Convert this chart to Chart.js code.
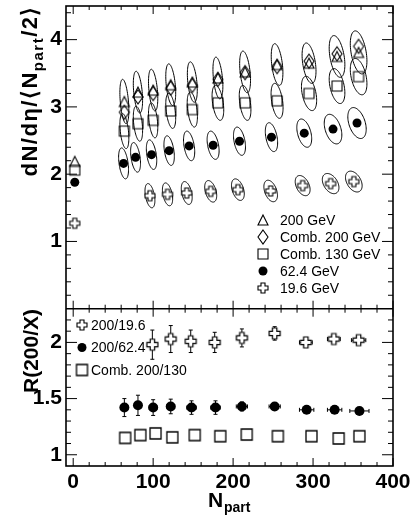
<!DOCTYPE html>
<html>
<head>
<meta charset="utf-8">
<script src="https://cdn.jsdelivr.net/npm/chart.js@4.4.1/dist/chart.umd.min.js"></script>
<style>
  html, body { margin: 0; padding: 0; background: #fff; }
</style>
</head>
<body>
<canvas id="c" width="411" height="520"></canvas>
<script>
// --- top panel: dN/deta / <Npart/2> vs Npart ---
const npartAu = [64, 81, 100, 122, 149, 181, 215, 255, 295, 330, 357];
const au200 = [3.08, 3.22, 3.25, 3.33, 3.37, 3.43, 3.52, 3.63, 3.65, 3.75, 3.81];
const comb200 = [2.92, 3.15, 3.20, 3.28, 3.32, 3.41, 3.51, 3.60, 3.68, 3.79, 3.90];
const comb130 = [2.64, 2.75, 2.80, 2.94, 2.96, 3.06, 3.06, 3.09, 3.20, 3.31, 3.45];
const npart62 = [63, 78, 98, 120, 145, 175, 208, 248, 289, 325, 355];
const au62 = [2.16, 2.25, 2.29, 2.35, 2.42, 2.43, 2.49, 2.55, 2.61, 2.67, 2.76];
const npart19 = [96, 118, 142, 172, 206, 247, 287, 322, 351];
const au19 = [1.68, 1.70, 1.72, 1.745, 1.77, 1.75, 1.83, 1.86, 1.89];

// p+p (Npart = 2) reference points
const ppNpart = [2];
const pp200 = [2.19];
const pp130 = [2.06];
const pp62 = [1.88];
const pp19 = [1.27];

// systematic error ellipses (half widths in Npart and in y)
const sys200N = [5.6, 5.8, 5.8, 6.2, 6.2, 6.2, 6.8, 7.3, 8.7, 9.8, 10.4];
const sys200Y = [0.33, 0.31, 0.31, 0.31, 0.30, 0.31, 0.31, 0.31, 0.30, 0.31, 0.32];
const sys130N = [5.6, 5.8, 5.8, 6.2, 6.4, 7.3, 7.3, 7.5, 9.5, 9.8, 10.4];
const sys130Y = [0.26, 0.26, 0.26, 0.26, 0.26, 0.26, 0.26, 0.26, 0.255, 0.26, 0.27];
const sys62N = [6.2, 6.2, 6.5, 6.5, 7.0, 7.5, 7.5, 7.7, 9.3, 11.0, 11.5];
const sys62Y = [0.23, 0.22, 0.22, 0.22, 0.22, 0.21, 0.21, 0.215, 0.21, 0.22, 0.23];
const sys19N = [6.2, 6.4, 6.8, 7.5, 8.0, 8.5, 9.3, 10.4, 10.4];
const sys19Y = [0.18, 0.17, 0.17, 0.16, 0.16, 0.16, 0.15, 0.15, 0.155];
const sysRho = -0.4;

// --- bottom panel: R(200/X) ---
const rNpart19 = [99, 122, 147, 177, 211, 252, 291, 326, 357];
const r19 = [1.98, 2.03, 2.01, 2.00, 2.04, 2.08, 2.00, 2.03, 2.02];
const r19ErrY = [0.13, 0.12, 0.10, 0.09, 0.08, 0.06, 0.03, 0.03, 0.03];
const r19ErrX = [4, 4, 5, 5, 6, 6, 8, 8, 9];
const rNpart62 = [64, 81, 100, 122, 148, 178, 211, 252, 292, 327, 358];
const r62 = [1.42, 1.44, 1.42, 1.43, 1.42, 1.42, 1.43, 1.43, 1.40, 1.40, 1.39];
const r62ErrY = [0.08, 0.09, 0.07, 0.065, 0.06, 0.06, 0.04, 0.03, 0.02, 0.02, 0.02];
const r62ErrX = [4, 4, 5, 5, 6, 6, 7, 7, 9, 9, 12];
const rNpart130 = [65, 84, 103, 124, 152, 184, 217, 256, 298, 332, 358];
const r130 = [1.15, 1.175, 1.19, 1.155, 1.175, 1.165, 1.18, 1.165, 1.165, 1.145, 1.165];

const xTicks = [0, 100, 200, 300, 400];
const yTopTicks = [1, 2, 3, 4];
const yBotTicks = [1, 1.5, 2];

const legendTop = ['200 GeV', 'Comb. 200 GeV', 'Comb. 130 GeV', '62.4 GeV', '19.6 GeV'];
const legendBot = ['200/19.6', '200/62.4', 'Comb. 200/130'];

const FONT = 'Liberation Sans, Arial, Helvetica, sans-serif';

function marker(kind, w, h, lw, fill) {
    const pad = 2;
    const c = document.createElement('canvas');
    c.width = w + pad * 2;
    c.height = h + pad * 2;
    const g = c.getContext('2d');
    g.translate(pad, pad);
    g.lineWidth = lw;
    g.strokeStyle = '#000';
    g.beginPath();
    const cx = w / 2, cy = h / 2;
    if (kind === 'tri') {
        g.moveTo(cx, 0); g.lineTo(w, h); g.lineTo(0, h); g.closePath();
    } else if (kind === 'dia') {
        g.moveTo(cx, 0); g.lineTo(w, cy); g.lineTo(cx, h); g.lineTo(0, cy); g.closePath();
    } else if (kind === 'sq') {
        g.rect(0, 0, w, h);
    } else if (kind === 'cross') {
        const a = w * 0.2;
        g.moveTo(cx - a, 0); g.lineTo(cx + a, 0); g.lineTo(cx + a, cy - a); g.lineTo(w, cy - a);
        g.lineTo(w, cy + a); g.lineTo(cx + a, cy + a); g.lineTo(cx + a, h); g.lineTo(cx - a, h);
        g.lineTo(cx - a, cy + a); g.lineTo(0, cy + a); g.lineTo(0, cy - a); g.lineTo(cx - a, cy - a);
        g.closePath();
    }
    if (fill) { g.fillStyle = fill; g.fill(); }
    g.stroke();
    return c;
}

const mkTri = marker('tri', 10, 10, 1.1);
const mkDia = marker('dia', 10, 14, 1.1);
const mkSq = marker('sq', 10, 10, 1.1);
const mkCross = marker('cross', 10, 10, 1.1, '#fff');
const mkCrossB = marker('cross', 11, 11, 1.2, '#fff');
const mkSqB = marker('sq', 11, 11, 1.3, '#fff');

const pts = (xs, ys) => xs.map((x, i) => ({ x: x, y: ys[i] }));

function ds(label, data, axis, style, extra) {
    return Object.assign({
        label: label,
        data: data,
        yAxisID: axis,
        pointStyle: style,
        pointRadius: 5,
        borderColor: '#000',
        backgroundColor: '#000',
        borderWidth: 1,
        showLine: false
    }, extra || {});
}

const datasets = [
    ds('200 GeV', pts(ppNpart, pp200).concat(pts(npartAu, au200)), 'yT', mkTri),
    ds('Comb. 200 GeV', pts(npartAu, comb200), 'yT', mkDia),
    ds('Comb. 130 GeV', pts(ppNpart, pp130).concat(pts(npartAu, comb130)), 'yT', mkSq),
    ds('62.4 GeV', pts(ppNpart, pp62).concat(pts(npart62, au62)), 'yT', 'circle', { pointRadius: 4.5, borderWidth: 0 }),
    ds('19.6 GeV', pts(ppNpart, pp19).concat(pts(npart19, au19)), 'yT', mkCross),
    ds('200/19.6', pts(rNpart19, r19), 'yB', mkCrossB),
    ds('200/62.4', pts(rNpart62, r62), 'yB', 'circle', { pointRadius: 5, borderWidth: 0 }),
    ds('Comb. 200/130', pts(rNpart130, r130), 'yB', mkSqB)
];

const ellipses = [
    [npartAu, au200, sys200N, sys200Y],
    [npartAu, comb130, sys130N, sys130Y],
    [npart62, au62, sys62N, sys62Y],
    [npart19, au19, sys19N, sys19Y]
];

const errBars = [
    [rNpart19, r19, r19ErrX, r19ErrY],
    [rNpart62, r62, r62ErrX, r62ErrY]
];

const extras = {
    id: 'extras',
    beforeDatasetsDraw(chart) {
        const ctx = chart.ctx;
        const sx = chart.scales.x, sy = chart.scales.yT, sb = chart.scales.yB;
        ctx.save();
        ctx.strokeStyle = '#000';
        ctx.lineWidth = 1;
        const k = Math.sqrt(1 - sysRho * sysRho);
        ellipses.forEach(([xs, ys, ex, ey]) => {
            xs.forEach((x0, i) => {
                ctx.beginPath();
                for (let j = 0; j <= 72; j++) {
                    const t = j / 72 * Math.PI * 2;
                    const px = sx.getPixelForValue(x0 + ex[i] * Math.cos(t));
                    const py = sy.getPixelForValue(ys[i] + ey[i] * (sysRho * Math.cos(t) + k * Math.sin(t)));
                    if (j === 0) ctx.moveTo(px, py); else ctx.lineTo(px, py);
                }
                ctx.stroke();
            });
        });
        // error bars in the ratio panel
        errBars.forEach(([xs, ys, ex, ey]) => {
            xs.forEach((x0, i) => {
                const px = sx.getPixelForValue(x0), py = sb.getPixelForValue(ys[i]);
                const x1 = sx.getPixelForValue(x0 - ex[i]), x2 = sx.getPixelForValue(x0 + ex[i]);
                const y1 = sb.getPixelForValue(ys[i] + ey[i]), y2 = sb.getPixelForValue(ys[i] - ey[i]);
                ctx.beginPath();
                ctx.moveTo(x1, py); ctx.lineTo(x2, py);
                ctx.moveTo(px, y1); ctx.lineTo(px, y2);
                ctx.moveTo(x1, py - 2); ctx.lineTo(x1, py + 2);
                ctx.moveTo(x2, py - 2); ctx.lineTo(x2, py + 2);
                ctx.moveTo(px - 2, y1); ctx.lineTo(px + 2, y1);
                ctx.moveTo(px - 2, y2); ctx.lineTo(px + 2, y2);
                ctx.stroke();
            });
        });
        ctx.restore();
    },
    afterDraw(chart) {
        const ctx = chart.ctx;
        const sx = chart.scales.x, yT = chart.scales.yT, yB = chart.scales.yB;
        const L = chart.chartArea.left, R = chart.chartArea.right;
        const top = yT.top, sep = yT.bottom, bot = yB.bottom;
        ctx.save();
        ctx.strokeStyle = '#000';
        ctx.lineWidth = 1;
        const line = (a, b, c, d) => { ctx.beginPath(); ctx.moveTo(a, b); ctx.lineTo(c, d); ctx.stroke(); };
        for (let v = 0; v <= 400; v += 20) {
            const px = sx.getPixelForValue(v);
            const len = v % 100 === 0 ? 8 : 4;
            line(px, top, px, top + len);
            line(px, sep, px, sep - len);
            line(px, sep, px, sep + len);
            line(px, bot, px, bot - len);
        }
        for (let i = 1; i < 23; i++) {
            const py = yT.getPixelForValue(i * 0.2);
            const len = i % 5 === 0 ? 11 : 5;
            line(L, py, L + len, py);
            line(R, py, R - len, py);
        }
        for (let i = 10; i <= 22; i++) {
            const py = yB.getPixelForValue(i / 10);
            const len = i % 5 === 0 ? 11 : 5;
            line(L, py, L + len, py);
            line(R, py, R - len, py);
        }
        ctx.lineWidth = 1.6;
        ctx.strokeRect(L, top, R - L, bot - top);
        line(L, sep, R, sep);

        // legends
        ctx.fillStyle = '#000';
        ctx.font = '14px ' + FONT;
        ctx.textBaseline = 'middle';
        ctx.textAlign = 'left';
        const topIcons = [mkTri, mkDia, mkSq, null, mkCross];
        legendTop.forEach((txt, i) => {
            const y = 220 + i * 17;
            const icon = topIcons[i];
            if (icon) {
                ctx.drawImage(icon, 263 - icon.width / 2, y - icon.height / 2);
            } else {
                ctx.beginPath(); ctx.arc(263, y, 4.5, 0, Math.PI * 2); ctx.fill();
            }
            ctx.fillText(txt, 280, y + 1);
        });
        const botIcons = [mkCross, null, mkSqB];
        legendBot.forEach((txt, i) => {
            const y = 325 + i * 22.5;
            const icon = botIcons[i];
            if (icon) {
                ctx.drawImage(icon, 82 - icon.width / 2, y - icon.height / 2);
            } else {
                ctx.beginPath(); ctx.arc(82, y, 4.5, 0, Math.PI * 2); ctx.fill();
            }
            ctx.fillText(txt, 91, y + 1);
        });

        // axis titles
        ctx.textBaseline = 'alphabetic';
        ctx.font = 'bold 21px ' + FONT;
        ctx.fillText('N', 208, 507);
        ctx.font = 'bold 14px ' + FONT;
        ctx.fillText('part', 224, 512);

        ctx.save();
        ctx.translate(38, 351);
        ctx.rotate(-Math.PI / 2);
        ctx.font = 'bold 21px ' + FONT;
        ctx.textAlign = 'center';
        ctx.fillText('R(200/X)', 0, 0);
        ctx.restore();

        // rotated title of the top panel, with a subscript
        const big = 'bold 22px ' + FONT, small = 'bold 15px ' + FONT;
        const parts = [['dN/d\u03b7/\u27e8N', big, 0], ['part', small, 6], ['/2\u27e9', big, 0]];
        ctx.save();
        ctx.letterSpacing = '1.5px';
        let total = 0;
        parts.forEach(([t, f]) => { ctx.font = f; total += ctx.measureText(t).width; });
        ctx.translate(37, 5 + total);
        ctx.rotate(-Math.PI / 2);
        let x = 0;
        parts.forEach(([t, f, dy]) => {
            ctx.font = f;
            ctx.fillText(t, x, dy);
            x += ctx.measureText(t).width;
        });
        ctx.restore();
        ctx.restore();
    }
};

const tickFont = { family: FONT, size: 21, weight: 'bold' };

function fixPad(s) {
    s.paddingTop = 0;
    s.paddingBottom = 0;
    s.paddingLeft = 0;
    s.paddingRight = 0;
}

new Chart(document.getElementById('c'), {
    type: 'scatter',
    data: { datasets: datasets },
    options: {
        responsive: false,
        animation: false,
        events: [],
        layout: { padding: { top: 1, right: 18, left: 0, bottom: 0 } },
        plugins: { legend: { display: false }, tooltip: { enabled: false } },
        scales: {
            x: {
                type: 'linear', min: -9, max: 400,
                grid: { display: false, drawTicks: false },
                border: { display: false },
                afterBuildTicks: s => { s.ticks = xTicks.map(v => ({ value: v })); },
                afterFit: s => { s.height = 54; fixPad(s); },
                ticks: { padding: 4, color: '#000', font: tickFont, maxRotation: 0, callback: v => String(v) }
            },
            yB: {
                type: 'linear', position: 'left', stack: 'panels', stackWeight: 159,
                min: 0.9, max: 2.3,
                grid: { display: false, drawTicks: false },
                border: { display: false },
                afterBuildTicks: s => { s.ticks = yBotTicks.map(v => ({ value: v })); },
                afterFit: s => { s.width = 66; fixPad(s); },
                ticks: { padding: 4, color: '#000', font: tickFont, callback: v => String(v) }
            },
            yT: {
                type: 'linear', position: 'left', stack: 'panels', stackWeight: 306,
                min: 0, max: 4.5,
                grid: { display: false, drawTicks: false },
                border: { display: false },
                afterBuildTicks: s => { s.ticks = yTopTicks.map(v => ({ value: v })); },
                afterFit: s => { s.width = 66; fixPad(s); },
                ticks: { padding: 4, color: '#000', font: tickFont, callback: v => String(v) }
            }
        }
    },
    plugins: [extras]
});
</script>
</body>
</html>
